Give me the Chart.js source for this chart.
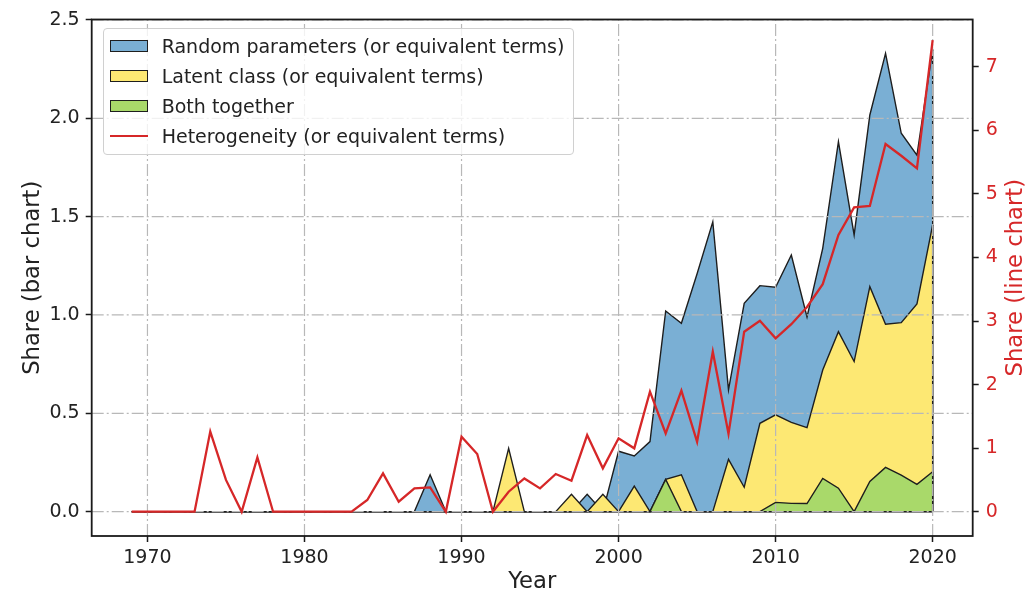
<!DOCTYPE html>
<html>
<head>
<meta charset="utf-8">
<title>Heterogeneity terms by year</title>
<script src="https://cdn.jsdelivr.net/npm/chart.js@4.4.1/dist/chart.umd.min.js"></script>
<style>
  html, body { margin: 0; padding: 0; background: #ffffff; }
  #wrap { position: relative; width: 1029px; height: 596px; }
  #chart { display: block; }
  #legend {
    position: absolute;
    box-sizing: border-box;
    padding: 1.7px 9px 3.3px 6px;
    border: 1px solid #d0d0d0;
    border-radius: 4px;
    background: rgba(255, 255, 255, 0.8);
    font-family: 'DejaVu Sans', sans-serif;
    font-size: 19px;
    color: #222222;
  }
  #legend .item { display: flex; align-items: center; height: 30px; white-space: nowrap; }
  #legend .swatch { width: 38px; height: 12px; box-sizing: border-box; margin-right: 14px; flex: none; }
  #legend .stroke { width: 38px; height: 2.4px; margin-right: 14px; flex: none; }
</style>
</head>
<body>
<div id="wrap">
  <canvas id="chart" width="1029" height="596"></canvas>
  <div id="legend"></div>
</div>
<script>
// Publication year
const years = [
  1969, 1970, 1971, 1972, 1973, 1974, 1975, 1976, 1977, 1978,
  1979, 1980, 1981, 1982, 1983, 1984, 1985, 1986, 1987, 1988,
  1989, 1990, 1991, 1992, 1993, 1994, 1995, 1996, 1997, 1998,
  1999, 2000, 2001, 2002, 2003, 2004, 2005, 2006, 2007, 2008,
  2009, 2010, 2011, 2012, 2013, 2014, 2015, 2016, 2017, 2018,
  2019, 2020
];

// Share of papers (left axis, filled areas)
const randomParams = [
  0, 0, 0, 0, 0, 0, 0, 0, 0, 0,
  0, 0, 0, 0, 0, 0, 0, 0, 0, 0.187,
  0, 0, 0, 0, 0, 0, 0, 0, 0, 0.088,
  0, 0.307, 0.283, 0.356, 1.02, 0.958, 1.21, 1.474, 0.619, 1.059,
  1.149, 1.141, 1.305, 0.99, 1.339, 1.881, 1.407, 2.017, 2.33, 1.924,
  1.813, 2.35
];
const latentClass = [
  0, 0, 0, 0, 0, 0, 0, 0, 0, 0,
  0, 0, 0, 0, 0, 0, 0, 0, 0, 0,
  0, 0, 0, 0, 0.322, 0, 0, 0, 0.088, 0,
  0.088, 0, 0.13, 0, 0.164, 0.187, 0, 0, 0.266, 0.124,
  0.449, 0.492, 0.454, 0.427, 0.72, 0.915, 0.763, 1.144, 0.953, 0.961,
  1.056, 1.458
];
const bothTogether = [
  0, 0, 0, 0, 0, 0, 0, 0, 0, 0,
  0, 0, 0, 0, 0, 0, 0, 0, 0, 0,
  0, 0, 0, 0, 0, 0, 0, 0, 0, 0,
  0, 0, 0, 0, 0.164, 0, 0, 0, 0, 0,
  0, 0.047, 0.042, 0.041, 0.169, 0.119, 0, 0.153, 0.225, 0.186,
  0.139, 0.203
];

// Share of papers (right axis, line)
const heterogeneity = [
  0, 0, 0, 0, 0, 1.26, 0.5, 0, 0.855, 0,
  0, 0, 0, 0, 0, 0.184, 0.604, 0.157, 0.367, 0.383,
  0, 1.18, 0.907, 0, 0.315, 0.524, 0.367, 0.593, 0.488, 1.206,
  0.683, 1.155, 0.997, 1.888, 1.233, 1.904, 1.101, 2.517, 1.228, 2.832,
  3.005, 2.728, 2.95, 3.22, 3.58, 4.353, 4.788, 4.809, 5.784, 5.6,
  5.402, 7.42
];

// Axis ticks
const yearTicks = [1970, 1980, 1990, 2000, 2010, 2020];
const barTicks = [0, 0.5, 1.0, 1.5, 2.0, 2.5];
const lineTicks = [0, 1, 2, 3, 4, 5, 6, 7];

const seriesLabels = [
  'Random parameters (or equivalent terms)',
  'Latent class (or equivalent terms)',
  'Both together',
  'Heterogeneity (or equivalent terms)'
];

const TEXT = '#222222';
const RED = '#d62728';
const EDGE = '#1e1e1e';
const GRID = '#b8b8b8';
const GRID_DASH = [12, 3, 2, 3];
const FONT = "'DejaVu Sans', sans-serif";

Chart.defaults.font.family = FONT;
Chart.defaults.color = TEXT;

const pts = (vals) => years.map((yr, i) => ({ x: yr, y: vals[i] }));

// Closing edges of each filled polygon: down to zero at the end and back along the baseline
const polygonEdges = {
  id: 'polygonEdges',
  afterDatasetDraw(chart, args) {
    const ds = chart.data.datasets[args.index];
    if (!ds.fill) return;
    const { ctx, chartArea: a } = chart;
    const els = args.meta.data;
    const first = els[0];
    const last = els[els.length - 1];
    const y0 = chart.scales[args.meta.yAxisID].getPixelForValue(0);
    ctx.save();
    ctx.beginPath();
    ctx.rect(a.left, a.top, a.width, a.height);
    ctx.clip();
    ctx.strokeStyle = ds.borderColor;
    ctx.lineWidth = ds.borderWidth;
    ctx.lineJoin = 'round';
    ctx.beginPath();
    ctx.moveTo(last.x, last.y);
    ctx.lineTo(last.x, y0);
    ctx.lineTo(first.x, y0);
    ctx.stroke();
    ctx.restore();
  }
};

// Grid lines sit above the filled areas but below the line series
const gridAboveFills = {
  id: 'gridAboveFills',
  afterDatasetDraw(chart, args) {
    if (chart.data.datasets[args.index].label !== seriesLabels[2]) return;
    const { ctx, chartArea: a, scales } = chart;
    ctx.save();
    ctx.beginPath();
    ctx.rect(a.left, a.top, a.width, a.height);
    ctx.clip();
    ctx.strokeStyle = GRID;
    ctx.lineWidth = 1.2;
    ctx.setLineDash(GRID_DASH);
    scales.x.ticks.forEach(t => {
      const px = scales.x.getPixelForValue(t.value);
      ctx.beginPath();
      ctx.moveTo(px, a.bottom);
      ctx.lineTo(px, a.top);
      ctx.stroke();
    });
    scales.y.ticks.forEach(t => {
      const py = scales.y.getPixelForValue(t.value);
      ctx.beginPath();
      ctx.moveTo(a.left, py);
      ctx.lineTo(a.right, py);
      ctx.stroke();
    });
    ctx.restore();
  }
};

// Full box around the plotting area
const frame = {
  id: 'frame',
  afterDatasetsDraw(chart) {
    const { ctx, chartArea: a } = chart;
    ctx.save();
    ctx.strokeStyle = '#1a1a1a';
    ctx.lineWidth = 1.8;
    ctx.strokeRect(a.left, a.top, a.width, a.height);
    ctx.restore();
  }
};

// Right axis title, reading bottom to top
const rightTitle = {
  id: 'rightTitle',
  afterDraw(chart) {
    const { ctx, chartArea: a } = chart;
    const s = chart.scales.y2;
    const size = 22.7;
    ctx.save();
    ctx.translate(s.right - size * 0.56, (a.top + a.bottom) / 2);
    ctx.rotate(-Math.PI / 2);
    ctx.font = size + 'px ' + FONT;
    ctx.fillStyle = RED;
    ctx.textAlign = 'center';
    ctx.textBaseline = 'middle';
    ctx.fillText('Share (line chart)', 0, 0);
    ctx.restore();
  }
};

// Legend placed inside the upper-left corner of the plot
const htmlLegend = {
  id: 'htmlLegend',
  afterUpdate(chart) {
    const box = document.getElementById('legend');
    box.innerHTML = '';
    chart.data.datasets.forEach(ds => {
      const row = document.createElement('div');
      row.className = 'item';
      const mark = document.createElement('span');
      if (ds.fill) {
        mark.className = 'swatch';
        mark.style.background = ds.backgroundColor;
        mark.style.border = '1.4px solid ' + ds.borderColor;
      } else {
        mark.className = 'stroke';
        mark.style.background = ds.borderColor;
      }
      const txt = document.createElement('span');
      txt.textContent = ds.label;
      row.appendChild(mark);
      row.appendChild(txt);
      box.appendChild(row);
    });
    const a = chart.chartArea;
    box.style.left = (a.left + 11) + 'px';
    box.style.top = (a.top + 8.8) + 'px';
  }
};

const fillSeries = (label, vals, color, order) => ({
  type: 'line',
  label,
  data: pts(vals),
  yAxisID: 'y',
  backgroundColor: color,
  borderColor: EDGE,
  borderWidth: 1.4,
  fill: 'origin',
  tension: 0,
  pointRadius: 0,
  order
});

new Chart(document.getElementById('chart'), {
  type: 'line',
  data: {
    datasets: [
      fillSeries(seriesLabels[0], randomParams, '#7aafd4', 3),
      fillSeries(seriesLabels[1], latentClass, '#fde873', 2),
      fillSeries(seriesLabels[2], bothTogether, '#a9d96a', 1),
      {
        type: 'line',
        label: seriesLabels[3],
        data: pts(heterogeneity),
        yAxisID: 'y2',
        borderColor: RED,
        backgroundColor: RED,
        borderWidth: 2.3,
        fill: false,
        tension: 0,
        pointRadius: 0,
        order: 0
      }
    ]
  },
  options: {
    responsive: false,
    animation: false,
    devicePixelRatio: 1,
    layout: { padding: { top: 19.5, left: 0, right: 0, bottom: 0 } },
    plugins: {
      legend: { display: false },
      tooltip: { enabled: false }
    },
    scales: {
      x: {
        type: 'linear',
        position: 'bottom',
        min: 1966.45,
        max: 2022.55,
        afterBuildTicks: (s) => { s.ticks = yearTicks.map(v => ({ value: v })); },
        afterFit: (s) => { s.height = 60; },
        ticks: {
          callback: (v) => String(v),
          font: { size: 19 },
          color: TEXT,
          padding: 5,
          maxRotation: 0,
          autoSkip: false
        },
        grid: {
          drawOnChartArea: false,
          drawTicks: true,
          tickLength: 6,
          tickColor: '#1a1a1a',
          tickWidth: 1.5
        },
        border: { display: false },
        title: {
          display: true,
          text: 'Year',
          font: { size: 22.7 },
          color: TEXT,
          padding: { top: 0, bottom: 0 }
        }
      },
      y: {
        type: 'linear',
        position: 'left',
        min: -0.124,
        max: 2.5025,
        afterBuildTicks: (s) => { s.ticks = barTicks.map(v => ({ value: v })); },
        afterFit: (s) => { s.width = 91.7; },
        ticks: {
          callback: (v) => Number(v).toFixed(1),
          font: { size: 19 },
          color: TEXT,
          padding: 6
        },
        grid: {
          drawOnChartArea: false,
          drawTicks: true,
          tickLength: 6,
          tickColor: '#1a1a1a',
          tickWidth: 1.5
        },
        border: { display: false },
        title: {
          display: true,
          text: 'Share (bar chart)',
          font: { size: 22.7 },
          color: TEXT,
          padding: { top: 19.4, bottom: 0 }
        }
      },
      y2: {
        type: 'linear',
        position: 'right',
        min: -0.382,
        max: 7.743,
        afterBuildTicks: (s) => { s.ticks = lineTicks.map(v => ({ value: v })); },
        afterFit: (s) => { s.width = 56.3; },
        ticks: {
          callback: (v) => String(v),
          font: { size: 19 },
          color: RED,
          padding: 7
        },
        grid: {
          drawOnChartArea: false,
          drawTicks: true,
          tickLength: 6,
          tickColor: '#1a1a1a',
          tickWidth: 1.5
        },
        border: { display: false },
        title: { display: false }
      }
    }
  },
  plugins: [polygonEdges, gridAboveFills, frame, rightTitle, htmlLegend]
});
</script>
</body>
</html>
